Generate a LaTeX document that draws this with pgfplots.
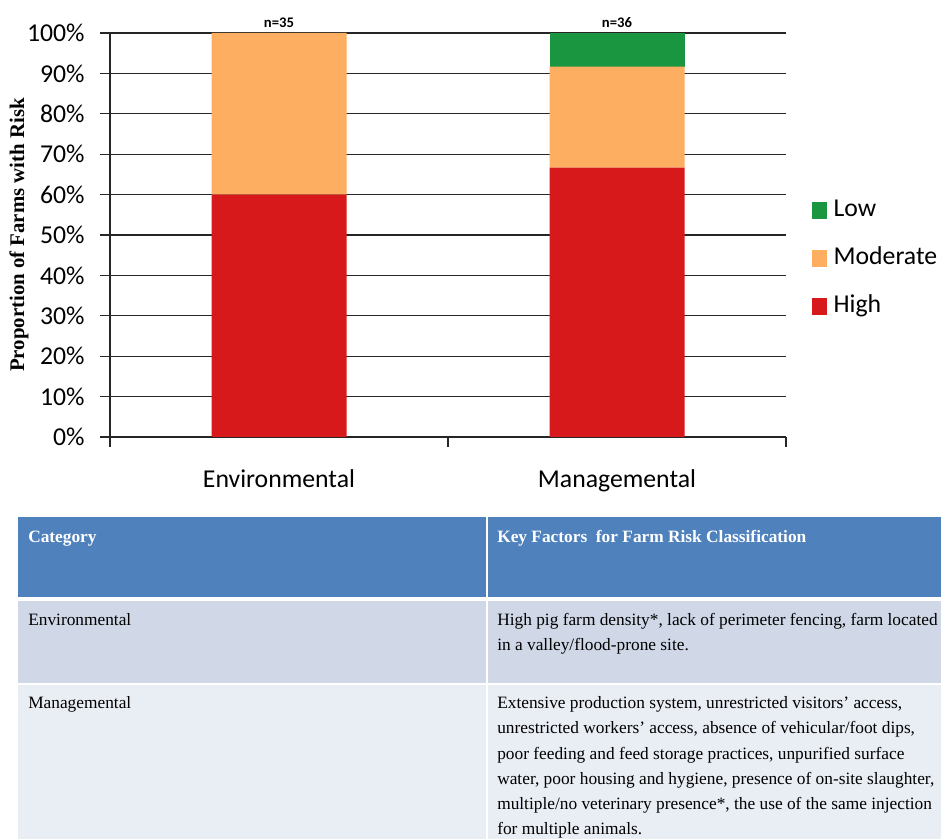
\documentclass[border=0pt]{standalone}
\usepackage{fontspec}
\setmainfont{Carlito}
\newfontfamily\timesfont{Liberation Serif}
\usepackage{pgfplots}
\pgfplotsset{compat=1.18}
\definecolor{high}{HTML}{D7191C}
\definecolor{moder}{HTML}{FDAE61}
\definecolor{low}{HTML}{1A9641}
\definecolor{hdr}{HTML}{4F81BD}
\definecolor{rowa}{HTML}{D0D8E8}
\definecolor{rowb}{HTML}{E9EDF4}
\pgfplotsset{sq legend/.style={legend image code/.code={\fill[##1] (0pt,-6.25pt) rectangle (11pt,6.25pt);}}}
\begin{document}
\begin{tikzpicture}
\useasboundingbox (0,0) rectangle (705.75pt,628.5pt);
\begin{scope}
\clip (0,0) rectangle (705.75pt,628.5pt);
\fill[hdr] (13.5pt,180.75pt) rectangle (720pt,240.75pt);
\fill[rowa] (13.5pt,116.25pt) rectangle (720pt,177.75pt);
\fill[rowb] (13.5pt,-10pt) rectangle (720pt,114.75pt);
\draw[white, line width=1.5pt] (365.25pt,-10pt) -- (365.25pt,241pt);
\begin{scope}[every node/.style={anchor=base west, inner sep=0pt, font=\timesfont\fontsize{13}{15}\selectfont}]
\node[text=white, font=\timesfont\bfseries\fontsize{13}{15}\selectfont] at (21pt,221.25pt) {Category};
\node[text=white, font=\timesfont\bfseries\fontsize{13}{15}\selectfont] at (372.75pt,221.25pt) {Key Factors~ for Farm Risk Classification};
\node at (21pt,159pt) {Environmental};
\node at (372.75pt,159pt) {High pig farm density*, lack of perimeter fencing, farm located};
\node at (372.75pt,140.25pt) {in a valley/flood-prone site.};
\node at (21pt,96.75pt) {Managemental};
\node at (372.75pt,96.75pt) {Extensive production system, unrestricted visitors’ access,};
\node at (372.75pt,78pt) {unrestricted workers’ access, absence of vehicular/foot dips,};
\node at (372.75pt,59.25pt) {poor feeding and feed storage practices, unpurified surface};
\node at (372.75pt,40.5pt) {water, poor housing and hygiene, presence of on-site slaughter,};
\node at (372.75pt,21.75pt) {multiple/no veterinary presence*, the use of the same injection};
\node at (372.75pt,3pt) {for multiple animals.};
\end{scope}
\end{scope}
\begin{axis}[
  at={(82.5pt,300.75pt)}, anchor=south west,
  scale only axis, width=507pt, height=303pt,
  xmin=-0.5, xmax=1.5, ymin=0, ymax=100,
  clip=false,
  axis x line*=bottom, axis y line*=left,
  axis line style={-, black!85, line width=0.8pt},
  ytick={0,10,...,100},
  ymajorgrids, grid style={black!85, line width=1pt},
  yticklabel={\pgfmathprintnumber{\tick}\%},
  /pgf/number format/assume math mode=true,
  tick align=outside, major tick length=7.5pt, minor tick length=7.5pt,
  xtick={0,1}, xticklabels={Environmental,Managemental},
  minor xtick={-0.5,0.5,1.5},
  major x tick style={draw=none},
  tick style={black!85, line width=0.8pt},
  ticklabel style={font=\fontsize{19.3}{23}\selectfont},
  yticklabel style={xshift=-8pt},
  xticklabel style={yshift=-13.5pt},
  ylabel={\timesfont\bfseries Proportion of Farms with Risk},
  ylabel style={font=\fontsize{15.6}{18}\selectfont, at={(rel axis cs:-0.1346,0.5)}, anchor=center, inner sep=0pt},
  ybar stacked, bar width=101.25pt,
  reverse legend,
  legend style={at={(1.0385,0.442)}, anchor=west, draw=none, fill=none, inner sep=0pt,
    font=\fontsize{19.3}{23}\selectfont, row sep=19pt, column sep=5pt,
    nodes={inner sep=0pt, text height=13pt, text depth=4pt}},
  legend cell align=left,
]
\addplot[fill=high, draw=none, sq legend] coordinates {(0,60) (1,66.67)};
\addlegendentry{High}
\addplot[fill=moder, draw=none, sq legend] coordinates {(0,40) (1,25)};
\addlegendentry{Moderate}
\addplot[fill=low, draw=none, sq legend] coordinates {(0,0) (1,8.33)};
\addlegendentry{Low}
\node[anchor=base, font=\bfseries\fontsize{11}{13}\selectfont, yshift=4pt] at (axis cs:0,100) {n=35};
\node[anchor=base, font=\bfseries\fontsize{11}{13}\selectfont, yshift=4pt] at (axis cs:1,100) {n=36};
\end{axis}
\end{tikzpicture}
\end{document}
